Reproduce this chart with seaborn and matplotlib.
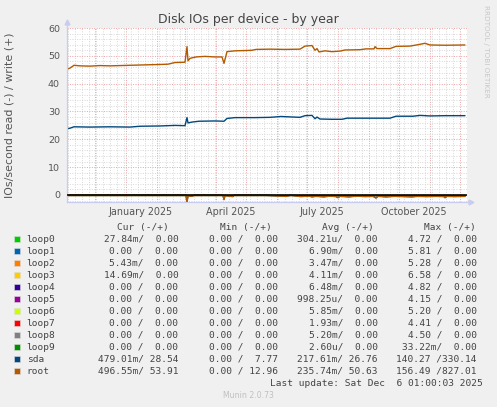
import numpy as np
import pandas as pd
import matplotlib
matplotlib.use("Agg")
import matplotlib.pyplot as plt
import matplotlib.dates as mdates
from matplotlib.patches import Rectangle
from matplotlib.ticker import MultipleLocator
import seaborn as sns

# ---------------- data ----------------
root_write_dates = ["2024-11-03", "2024-11-06", "2024-11-10", "2024-11-16", "2024-11-26", "2024-12-06",
                    "2024-12-16", "2024-12-26", "2025-01-05", "2025-01-15", "2025-01-25", "2025-02-04",
                    "2025-02-12", "2025-02-19", "2025-03-01", "2025-03-03", "2025-03-04", "2025-03-06",
                    "2025-03-12", "2025-03-21", "2025-03-31", "2025-04-07", "2025-04-09", "2025-04-12",
                    "2025-04-20", "2025-04-30", "2025-05-07", "2025-05-11", "2025-05-25", "2025-06-09",
                    "2025-06-24", "2025-06-29", "2025-07-06", "2025-07-09", "2025-07-11", "2025-07-13",
                    "2025-07-19", "2025-07-26", "2025-08-03", "2025-08-08", "2025-08-23", "2025-08-29",
                    "2025-09-06", "2025-09-07", "2025-09-09", "2025-09-22", "2025-09-28", "2025-10-12",
                    "2025-10-20", "2025-10-27", "2025-11-01", "2025-11-16", "2025-12-06"]
root_write = [45.2, 45.6, 46.6, 46.4, 46.3, 46.5,
              46.4, 46.5, 46.6, 46.7, 46.8, 46.9,
              47.0, 47.6, 47.7, 53.3, 48.2, 49.1,
              49.6, 49.8, 49.6, 49.6, 47.3, 51.5,
              51.8, 51.9, 52.0, 52.3, 52.4, 52.3,
              52.4, 53.5, 53.7, 52.0, 52.6, 51.4,
              51.8, 51.5, 51.7, 52.1, 52.2, 52.5,
              52.5, 53.3, 52.6, 52.6, 53.4, 53.5,
              54.0, 54.5, 53.9, 53.8, 53.9]

sda_write_dates = ["2024-11-03", "2024-11-06", "2024-11-10", "2024-11-26", "2024-12-16", "2025-01-05",
                   "2025-01-15", "2025-02-04", "2025-02-19", "2025-03-01", "2025-03-03", "2025-03-04",
                   "2025-03-08", "2025-03-15", "2025-03-31", "2025-04-09", "2025-04-12", "2025-04-20",
                   "2025-05-10", "2025-05-25", "2025-06-05", "2025-06-24", "2025-06-29", "2025-07-06",
                   "2025-07-09", "2025-07-11", "2025-07-14", "2025-07-26", "2025-08-05", "2025-08-10",
                   "2025-09-01", "2025-09-22", "2025-09-28", "2025-10-15", "2025-10-22", "2025-11-01",
                   "2025-11-16", "2025-12-06"]
sda_write = [23.8, 24.0, 24.5, 24.4, 24.5, 24.4,
             24.7, 24.8, 25.0, 24.9, 27.8, 25.9,
             26.2, 26.5, 26.6, 26.5, 27.5, 27.8,
             27.8, 27.9, 28.2, 27.9, 28.5, 28.6,
             27.4, 28.0, 27.3, 27.2, 27.2, 27.6,
             27.6, 27.6, 28.3, 28.3, 28.6, 28.4,
             28.5, 28.5]

read_dates = ["2024-11-03", "2025-02-20", "2025-03-02", "2025-03-03", "2025-03-04", "2025-03-08",
              "2025-03-10", "2025-04-08", "2025-04-09", "2025-04-10", "2025-04-18", "2025-04-19",
              "2025-05-20", "2025-06-10", "2025-06-15", "2025-06-25", "2025-07-03", "2025-07-06",
              "2025-07-10", "2025-07-18", "2025-07-24", "2025-07-30", "2025-08-01", "2025-08-03",
              "2025-08-12", "2025-08-20", "2025-08-28", "2025-09-05", "2025-09-08", "2025-09-10",
              "2025-09-18", "2025-09-27", "2025-10-06", "2025-10-14", "2025-10-20", "2025-10-29",
              "2025-11-07", "2025-11-15", "2025-11-16", "2025-11-18", "2025-11-26", "2025-12-06"]
root_read = [0.0, -0.05, -0.1, -2.6, -0.3, -0.5,
             -0.05, -0.1, -1.7, -0.2, -0.6, -0.05,
             -0.1, -0.5, -0.1, -0.6, -0.4, -0.7,
             -0.5, -0.7, -0.4, -0.6, -1.0, -0.5,
             -0.7, -0.4, -0.6, -0.5, -1.1, -0.5,
             -0.7, -0.5, -0.6, -0.7, -0.5, -0.6,
             -0.5, -0.6, -1.0, -0.5, -0.6, -0.5]
sda_read = [0.0, -0.05, -0.1, -2.4, -0.3, -0.4,
            -0.05, -0.1, -1.5, -0.2, -0.5, -0.05,
            -0.1, -0.4, -0.1, -0.5, -0.35, -0.6,
            -0.4, -0.6, -0.35, -0.5, -0.9, -0.4,
            -0.6, -0.35, -0.5, -0.4, -1.0, -0.4,
            -0.6, -0.4, -0.5, -0.6, -0.4, -0.5,
            -0.4, -0.5, -0.9, -0.4, -0.5, -0.4]

devices = ["loop0", "loop1", "loop2", "loop3", "loop4", "loop5",
           "loop6", "loop7", "loop8", "loop9", "sda", "root"]
device_colors = ["#00CC00", "#0066B3", "#FF8000", "#FFCC00", "#330099", "#990099",
                 "#CCFF00", "#FF0000", "#808080", "#008F00", "#00487D", "#B35A00"]
cur_vals = ["27.84m/  0.00", "0.00 /  0.00", "5.43m/  0.00", "14.69m/  0.00", "0.00 /  0.00",
            "0.00 /  0.00", "0.00 /  0.00", "0.00 /  0.00", "0.00 /  0.00", "0.00 /  0.00",
            "479.01m/ 28.54", "496.55m/ 53.91"]
min_vals = ["0.00 /  0.00"] * 10 + ["0.00 /  7.77", "0.00 / 12.96"]
avg_vals = ["304.21u/  0.00", "6.90m/  0.00", "3.47m/  0.00", "4.11m/  0.00", "6.48m/  0.00",
            "998.25u/  0.00", "5.85m/  0.00", "1.93m/  0.00", "5.20m/  0.00", "2.60u/  0.00",
            "217.61m/ 26.76", "235.74m/ 50.63"]
max_vals = ["4.72 /  0.00", "5.81 /  0.00", "5.28 /  0.00", "6.58 /  0.00", "4.82 /  0.00",
            "4.15 /  0.00", "5.20 /  0.00", "4.41 /  0.00", "4.50 /  0.00", "33.22m/  0.00",
            "140.27 /330.14", "156.49 /827.01"]
headers = ["Cur (-/+)", "Min (-/+)", "Avg (-/+)", "Max (-/+)"]
month_label_dates = ["2025-01-16", "2025-04-16", "2025-07-16", "2025-10-16"]
month_labels = ["January 2025", "April 2025", "July 2025", "October 2025"]

title = "Disk IOs per device - by year"
ylabel = "IOs/second read (-) / write (+)"
last_update = "Last update: Sat Dec  6 01:00:03 2025"
footer = "Munin 2.0.73"
watermark = "RRDTOOL / TOBI OETIKER"

# ---------------- figure ----------------
sns.set_style("white")
plt.rcParams["font.family"] = ["DejaVu Sans"]

W, H = 497, 407
fig = plt.figure(figsize=(W / 100, H / 100), dpi=100, facecolor="#F0F0F0")


def fx(x):
    return x / W


def fy(y):
    return 1 - y / H


ax_l, ax_r, ax_t, ax_b = 66.5, 466.5, 28.0, 202.5
ax = fig.add_axes([fx(ax_l), fy(ax_b), (ax_r - ax_l) / W, (ax_b - ax_t) / H])
ax.set_facecolor("white")

xmin = pd.Timestamp("2024-11-02 12:00")
xmax = pd.Timestamp("2025-12-07 12:00")
ax.set_xlim(xmin, xmax)
ax.set_ylim(-2.7, 60)

# grid
ax.xaxis.set_major_locator(mdates.MonthLocator())
ax.xaxis.set_minor_locator(mdates.WeekdayLocator(byweekday=mdates.MO))
ax.yaxis.set_major_locator(MultipleLocator(10))
ax.yaxis.set_minor_locator(MultipleLocator(2))
ax.grid(which="minor", color="#D8D8D8", linestyle=(0, (1, 1.5)), linewidth=0.7)
ax.grid(which="major", color="#EBA3A3", linestyle=(0, (1, 1.5)), linewidth=0.7)
ax.set_axisbelow(True)

# lines
for d, c in zip(devices[:10], device_colors[:10]):
    df0 = pd.DataFrame({"t": pd.to_datetime([read_dates[0], read_dates[-1]]), "v": [0.0, 0.0]})
    sns.lineplot(data=df0, x="t", y="v", ax=ax, color=c, linewidth=0.8)

df_sda_r = pd.DataFrame({"t": pd.to_datetime(read_dates), "v": sda_read})
df_root_r = pd.DataFrame({"t": pd.to_datetime(read_dates), "v": root_read})
df_sda_w = pd.DataFrame({"t": pd.to_datetime(sda_write_dates), "v": sda_write})
df_root_w = pd.DataFrame({"t": pd.to_datetime(root_write_dates), "v": root_write})

sns.lineplot(data=df_sda_r, x="t", y="v", ax=ax, color="#00487D", linewidth=1.0, estimator=None)
sns.lineplot(data=df_root_r, x="t", y="v", ax=ax, color="#B35A00", linewidth=1.0, estimator=None)
sns.lineplot(data=df_sda_w, x="t", y="v", ax=ax, color="#00487D", linewidth=1.0, estimator=None)
sns.lineplot(data=df_root_w, x="t", y="v", ax=ax, color="#B35A00", linewidth=1.0, estimator=None)
ax.axhline(0, color="black", linewidth=1.1, zorder=5)

# axes styling
for s in ["top", "right"]:
    ax.spines[s].set_visible(False)
for s in ["left", "bottom"]:
    ax.spines[s].set_color("#C8CCF0")
    ax.spines[s].set_linewidth(0.9)
ax.set_xlabel("")
ax.set_ylabel("")
ax.set_xticklabels([])
ax.tick_params(axis="x", which="both", length=0)
ax.tick_params(axis="y", which="both", length=0, pad=4.7, labelsize=6.8, labelcolor="#555555")
ax.set_yticks([0, 10, 20, 30, 40, 50, 60])

# axis arrows
ax.plot([0], [1.035], marker="^", color="#C8CCF0", markersize=3.5, transform=ax.transAxes, clip_on=False)
ax.plot([1.012], [0], marker=">", color="#C8CCF0", markersize=3.5, transform=ax.transAxes, clip_on=False)
ax.plot([0, 0], [1.0, 1.03], color="#C8CCF0", linewidth=0.9, transform=ax.transAxes, clip_on=False)
ax.plot([1.0, 1.01], [0, 0], color="#C8CCF0", linewidth=0.9, transform=ax.transAxes, clip_on=False)

# month labels
trans = ax.get_xaxis_transform()
for d, lab in zip(month_label_dates, month_labels):
    ax.text(pd.Timestamp(d), (ax_b - 212.3) / (ax_b - ax_t), lab, transform=trans,
            ha="center", va="center", fontsize=6.9, color="#555555")

# title and labels
fig.text(fx(248), fy(20), title, ha="center", va="center", fontsize=9.0, color="#444444")
fig.text(fx(10), fy(115), ylabel, ha="center", va="center", rotation=90, fontsize=7.9, color="#555555")
fig.text(fx(486), fy(5), watermark, ha="center", va="top", rotation=-90, fontsize=5.2, color="#C8C8C8")

# legend table
mono = "DejaVu Sans Mono"
fs = 6.8
col_right = [178.3, 278.3, 377.7, 476.7]
head_right = [169, 272, 374, 476]
for hx, h in zip(head_right, headers):
    fig.text(fx(hx), fy(227.7), h, ha="right", va="center", family=mono, fontsize=fs, color="#444444")
row_y = [239.3 + 12.0 * i for i in range(len(devices))]
for i, (d, c) in enumerate(zip(devices, device_colors)):
    yy = row_y[i]
    fig.patches.append(Rectangle((fx(14), fy(yy + 3)), 6 / W, 6 / H, transform=fig.transFigure,
                                 facecolor=c, edgecolor="#DDDDDD", linewidth=0.4))
    fig.text(fx(26.7), fy(yy), d, ha="left", va="center", family=mono, fontsize=fs, color="#444444")
    for cx, vals in zip(col_right, [cur_vals, min_vals, avg_vals, max_vals]):
        fig.text(fx(cx), fy(yy), vals[i], ha="right", va="center", family=mono, fontsize=fs, color="#444444")
fig.text(fx(482.3), fy(383.7), last_update, ha="right", va="center", family=mono, fontsize=fs, color="#444444")
fig.text(fx(248), fy(396), footer, ha="center", va="center", fontsize=5.6, color="#C0C0C0")

fig.savefig("out.png", dpi=100, facecolor=fig.get_facecolor())
